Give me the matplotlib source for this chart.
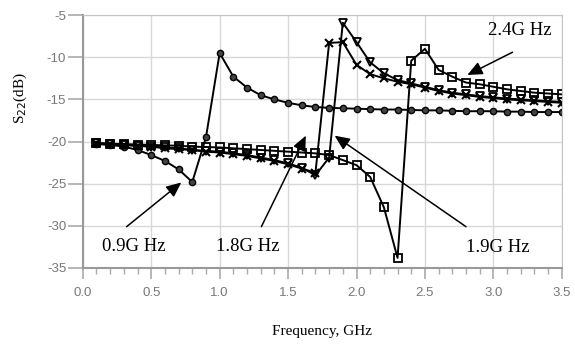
import numpy as np
import matplotlib.pyplot as plt
from matplotlib.ticker import MultipleLocator

plt.rcParams['axes.unicode_minus'] = False

# 周波数 (GHz)
freq = np.round(np.arange(0.1, 3.51, 0.1), 1)

# S22 (dB) 各整合周波数
s22_09 = [-20.3, -20.4, -20.6, -21.0, -21.6, -22.3, -23.3, -24.8, -19.5, -9.5,
          -12.3, -13.6, -14.5, -15.0, -15.4, -15.7, -15.9, -16.0, -16.05, -16.1,
          -16.15, -16.2, -16.2, -16.25, -16.3, -16.3, -16.35, -16.4, -16.4, -16.4,
          -16.45, -16.45, -16.5, -16.5, -16.5]
s22_18 = [-20.2, -20.3, -20.4, -20.5, -20.6, -20.8, -20.9, -21.0, -21.2, -21.3,
          -21.5, -21.7, -22.0, -22.3, -22.7, -23.2, -23.7, -8.3, -8.2, -10.9,
          -12.0, -12.5, -12.9, -13.2, -13.6, -14.0, -14.3, -14.5, -14.7, -14.85,
          -15.0, -15.1, -15.2, -15.3, -15.4]
s22_19 = [-20.2, -20.3, -20.4, -20.5, -20.6, -20.7, -20.8, -21.0, -21.1, -21.2,
          -21.4, -21.6, -21.9, -22.2, -22.6, -23.1, -24.0, -21.9, -5.9, -8.2,
          -10.6, -11.9, -12.7, -13.1, -13.5, -13.9, -14.2, -14.4, -14.6, -14.75,
          -14.9, -15.0, -15.1, -15.2, -15.3]
s22_24 = [-20.2, -20.25, -20.3, -20.35, -20.4, -20.45, -20.5, -20.6, -20.65, -20.7,
          -20.8, -20.9, -21.0, -21.1, -21.2, -21.3, -21.4, -21.6, -22.2, -22.8,
          -24.2, -27.8, -33.8, -10.4, -9.0, -11.5, -12.3, -13.0, -13.2, -13.5,
          -13.8, -14.0, -14.2, -14.3, -14.4]

# 注釈 (ラベル, 文字位置, 矢印の根元, 矢印の先)
labels = ['0.9G Hz', '1.8G Hz', '1.9G Hz', '2.4G Hz']
text_pos = [(0.372, -32.5), (1.205, -32.5), (3.03, -32.6), (3.19, -6.8)]
arrow_tail = [(0.32, -30.1), (1.305, -30.1), (2.80, -30.1), (3.14, -9.4)]
arrow_head = [(0.72, -24.85), (1.63, -19.3), (1.84, -19.3), (2.81, -12.1)]

fig = plt.figure(figsize=(5.75, 3.44), dpi=100)
ax = fig.add_axes([0.144, 0.221, 0.833, 0.735])

ax.plot(freq, s22_09, '-o', color='black', lw=1.4, ms=4.5, mfc='#444', mec='black', mew=1.0)
ax.plot(freq, s22_18, '-x', color='black', lw=1.4, ms=5.5, mew=1.5)
ax.plot(freq, s22_19, '-v', color='black', lw=1.4, ms=5.5, mfc='none', mew=1.3)
ax.plot(freq, s22_24, '-s', color='black', lw=1.4, ms=5.5, mfc='none', mew=1.3)

for lab, tp, tail, head in zip(labels, text_pos, arrow_tail, arrow_head):
    ax.annotate('', xy=head, xytext=tail,
                arrowprops=dict(arrowstyle='-|>,head_length=0.9,head_width=0.4',
                                color='black', lw=1.1, shrinkA=0, shrinkB=0))
    ax.text(tp[0], tp[1], lab, family='Liberation Serif', fontsize=13.5,
            ha='center', va='center')

ax.set_xlim(0, 3.5)
ax.set_ylim(-35, -5)
ax.xaxis.set_major_locator(MultipleLocator(0.5))
ax.xaxis.set_minor_locator(MultipleLocator(0.1))
ax.yaxis.set_major_locator(MultipleLocator(5))
ax.set_xticklabels([f'{v:.1f}' for v in ax.get_xticks()])
ax.grid(True, color='#d8d8d8', lw=1.0)
ax.set_axisbelow(True)

for sp in ax.spines.values():
    sp.set_color('#c4c4c4')
ax.spines['left'].set_color('#999999')
ax.spines['bottom'].set_color('#999999')
ax.spines['left'].set_linewidth(1.5)
ax.spines['bottom'].set_linewidth(1.5)
ax.tick_params(axis='both', which='major', colors='#aaaaaa', labelcolor='#777777',
               labelsize=9.5, width=1.2)
ax.tick_params(axis='y', which='major', length=11, pad=1)
ax.tick_params(axis='x', which='major', length=8, pad=6)
ax.tick_params(axis='x', which='minor', colors='#aaaaaa', length=4, width=1.0)
for t in ax.get_xticklabels() + ax.get_yticklabels():
    t.set_family('Liberation Sans')

ax.set_xlabel('Frequency, GHz', family='Liberation Serif', fontsize=11)
ax.xaxis.set_label_coords(0.5, -0.225)
ax.set_ylabel('S$_{22}$(dB)', family='Liberation Serif', fontsize=11)
ax.yaxis.set_label_coords(-0.112, 0.672)

fig.savefig('out.png', dpi=100)
